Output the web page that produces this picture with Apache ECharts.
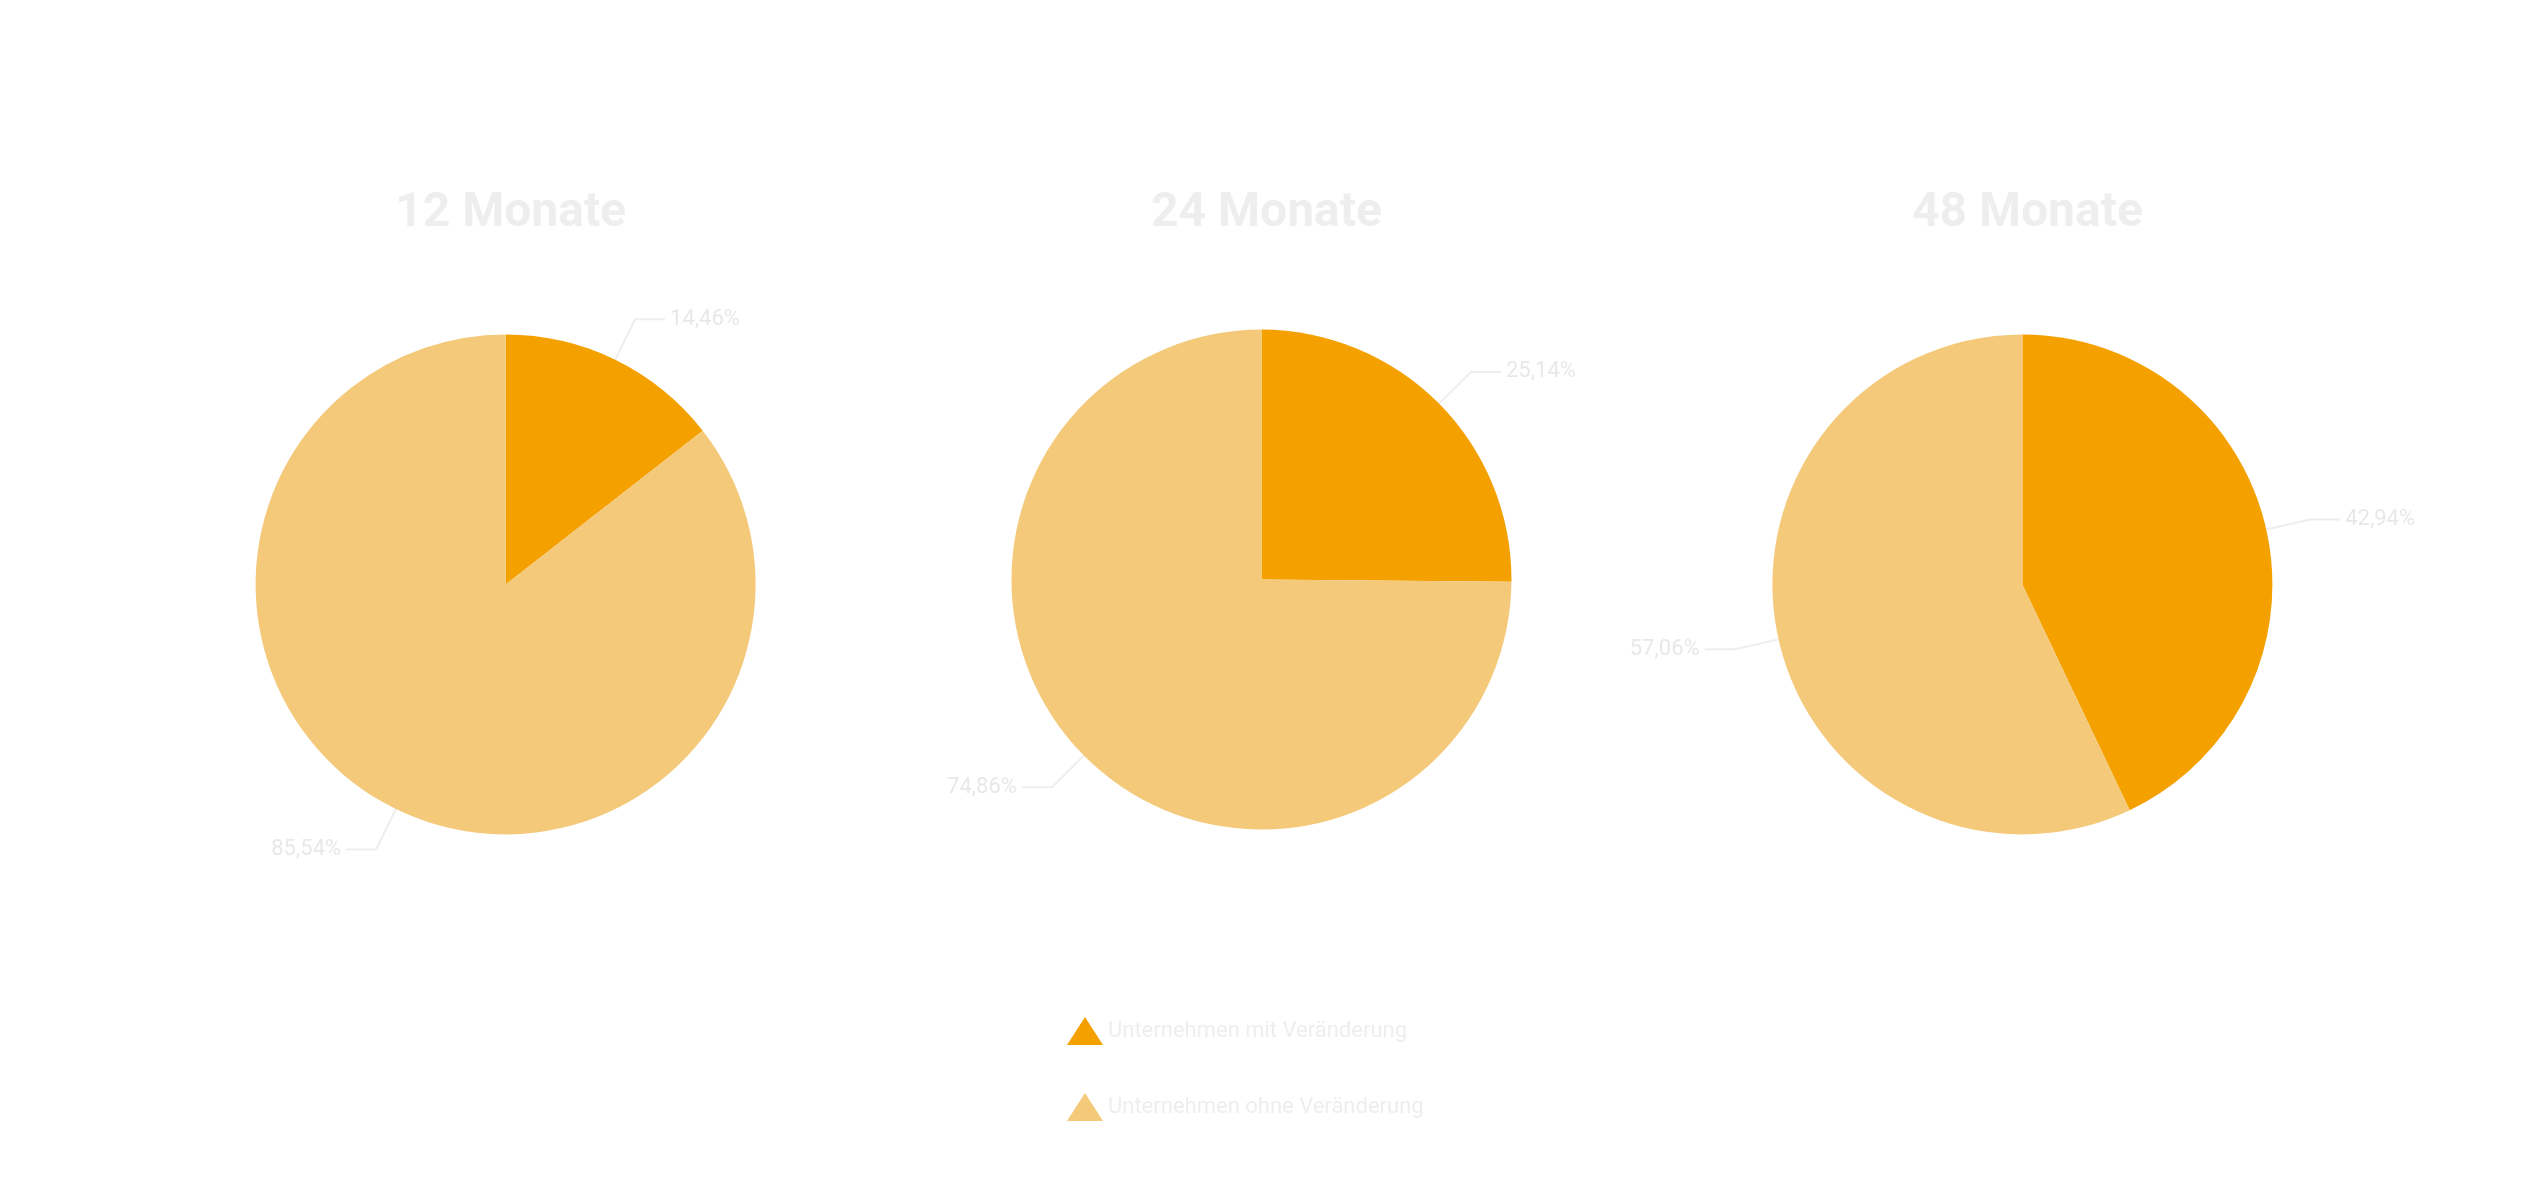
<!DOCTYPE html>
<html><head><meta charset="utf-8">
<script src="https://cdn.jsdelivr.net/npm/echarts@6/dist/echarts.min.js"></script>
<style>html,body{margin:0;background:#fff}#c{width:2528px;height:1200px}</style>
</head><body><div id="c"></div>
<script>
const categories = ['Unternehmen mit Veränderung', 'Unternehmen ohne Veränderung'];
const periods = ['12 Monate', '24 Monate', '48 Monate'];
const withChange = [14.46, 25.14, 42.94];
const withoutChange = [85.54, 74.86, 57.06];
const colors = ['#F4A100', '#F4C97A'];
const centersX = ['20%', '49.9%', '80%'];
const centersY = ['48.7%', '48.3%', '48.7%'];

const chart = echarts.init(document.getElementById('c'));
chart.setOption({
  backgroundColor: '#fff',
  color: colors,
  title: periods.map((p, i) => ({
    text: p, left: centersX[i], top: 185, textAlign: 'center',
    textStyle: { color: '#eeeeee', fontSize: 48, fontWeight: 'bold', fontFamily: 'Roboto' }
  })),
  legend: {
    orient: 'vertical', left: 1062, top: 1012, itemGap: 48,
    icon: 'triangle', itemWidth: 36, itemHeight: 28,
    textStyle: { color: '#eeeeee', fontSize: 22, fontFamily: 'Roboto' },
    data: categories
  },
  series: periods.map((p, i) => ({
    type: 'pie', name: p, radius: 250, center: [centersX[i], centersY[i]],
    startAngle: 90, clockwise: true, animation: false,
    label: {
      show: true, formatter: d => d.value.toFixed(2).replace('.', ',') + '%',
      color: '#e8e8e8', fontSize: 22, fontFamily: 'Roboto'
    },
    labelLine: { show: true, length: 45, length2: 30, lineStyle: { color: '#eeeeee', width: 2 } },
    emphasis: { disabled: true },
    data: [
      { name: categories[0], value: withChange[i] },
      { name: categories[1], value: withoutChange[i] }
    ]
  }))
});
</script></body></html>
